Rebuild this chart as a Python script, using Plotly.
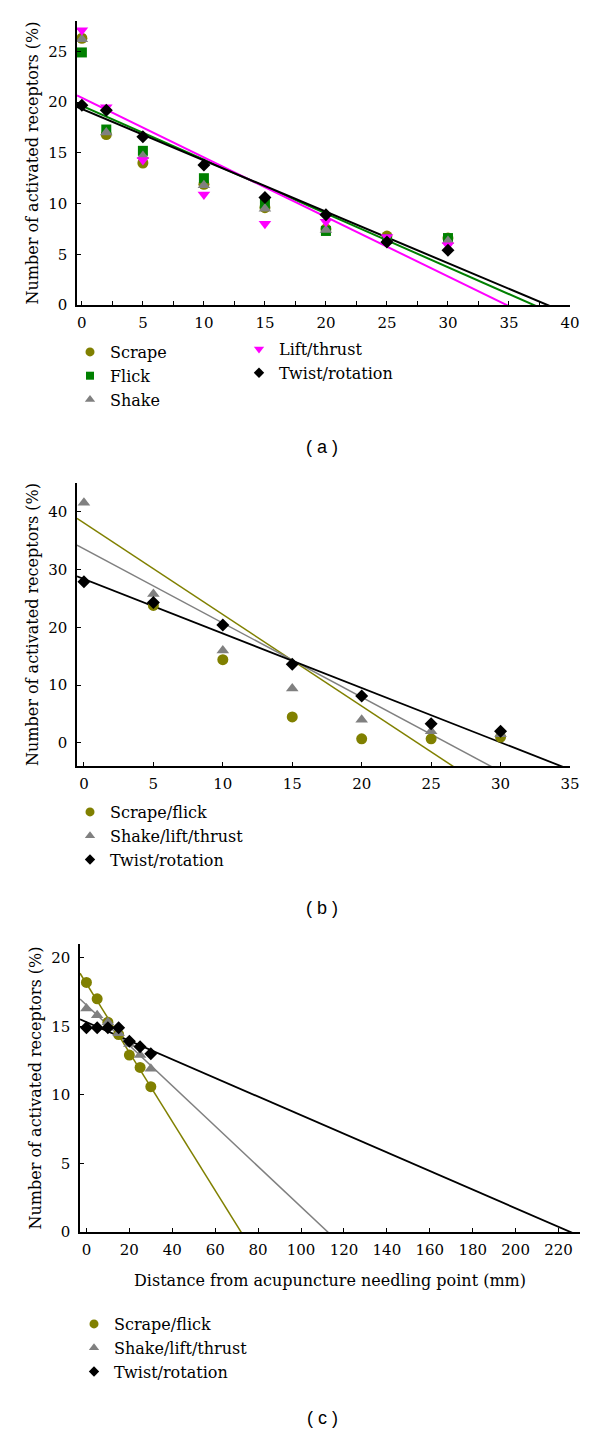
import numpy as np
import plotly.graph_objects as go

# ---------------- data ----------------
# Panel (a)
a_x = [0, 2, 5, 10, 15, 20, 25, 30]
a_scrape = [26.3, 16.8, 14.0, 11.9, 9.6, 7.5, 6.8, 6.6]
a_flick = [24.9, 17.3, 15.2, 12.5, 10.0, 7.3, 6.5, 6.6]
a_shake = [26.2, 17.0, 14.7, 11.8, 9.5, 7.4, 6.4, 6.3]
a_lift = [27.1, 19.5, 14.3, 10.9, 8.0, 8.2, 6.7, 5.9]
a_twist = [19.7, 19.2, 16.6, 13.8, 10.6, 8.9, 6.2, 5.4]

# Panel (b)
b_x = [0, 5, 10, 15, 20, 25, 30]
b_scrape_flick = [55.0, 23.8, 14.4, 4.5, 0.7, 0.7, 1.0]
b_shake_lift = [41.6, 25.8, 16.0, 9.4, 4.0, 2.0, 1.5]
b_twist = [27.9, 24.3, 20.4, 13.6, 8.1, 3.3, 2.0]

# Panel (c)
c_x = [0, 5, 10, 15, 20, 25, 30]
c_scrape_flick = [18.2, 17.0, 15.3, 14.4, 12.9, 12.0, 10.6]
c_shake_lift = [16.3, 15.8, 15.3, 14.5, 13.7, 12.9, 11.9]
c_twist = [14.9, 14.9, 14.9, 14.9, 13.9, 13.5, 13.0]

# ---------------- styling ----------------
OFF = 8  # default page body margin
W, H = 600 - OFF, 1434 - OFF
OLIVE = "#808000"
GREEN = "#008000"
GRAY = "#808080"
MAGENTA = "#FF00FF"
BLACK = "#000000"
SERIF = "DejaVu Serif"
SANS = "Liberation Sans"


def px_x(v):
    return (v - OFF) / W


def px_y(v):
    return 1 - (v - OFF) / H


fig = go.Figure()


def add_series(x, y, name, color, symbol, size, xa, ya, fit, lw, xr, legend, lsize):
    if fit:
        m, b = np.polyfit(np.array(x, float), np.array(y, float), 1)
        xs = np.array(xr, float)
        fig.add_trace(go.Scatter(x=xs, y=m * xs + b, mode="lines",
                                 line=dict(color=color, width=lw),
                                 xaxis=xa, yaxis=ya, showlegend=False,
                                 hoverinfo="skip"))
    return (x, y, name, color, symbol, size, xa, ya, legend, lsize)


def add_markers(spec):
    x, y, name, color, symbol, size, xa, ya, legend, lsize = spec
    fig.add_trace(go.Scatter(x=x, y=y, mode="markers", name=name,
                             marker=dict(color=color, symbol=symbol, size=size,
                                         line=dict(width=0)),
                             xaxis=xa, yaxis=ya, showlegend=False))
    fig.add_trace(go.Scatter(x=[None], y=[None], mode="markers", name=name,
                             marker=dict(color=color, symbol=symbol, size=lsize,
                                         line=dict(width=0)),
                             xaxis=xa, yaxis=ya, showlegend=True, legend=legend))


# panel (a)
ra_x = [-0.4, 40]
specs = [
    add_series(a_x, a_scrape, "Scrape", OLIVE, "circle", 11, "x", "y", False, 2, ra_x, "legend", 9),
    add_series(a_x, a_flick, "Flick", GREEN, "square", 10, "x", "y", True, 2, ra_x, "legend", 8),
    add_series(a_x, a_shake, "Shake", GRAY, "triangle-up", 11, "x", "y", False, 2, ra_x, "legend", 9),
    add_series(a_x, a_lift, "Lift/thrust", MAGENTA, "triangle-down", 11, "x", "y", True, 2, ra_x, "legend2", 9),
    add_series(a_x, a_twist, "Twist/rotation", BLACK, "diamond", 10, "x", "y", True, 2, ra_x, "legend2", 8),
]
for s in specs:
    add_markers(s)

# panel (b)
rb_x = [-0.5, 35]
specs = [
    add_series(b_x, b_scrape_flick, "Scrape/flick", OLIVE, "circle", 11, "x2", "y2", True, 1.5, rb_x, "legend3", 9),
    add_series(b_x, b_shake_lift, "Shake/lift/thrust", GRAY, "triangle-up", 11, "x2", "y2", True, 1.5, rb_x, "legend3", 9),
    add_series(b_x, b_twist, "Twist/rotation", BLACK, "diamond", 10, "x2", "y2", True, 1.8, rb_x, "legend3", 8),
]
for s in specs:
    add_markers(s)

# panel (c)
rc_x = [-3, 230]
specs = [
    add_series(c_x, c_scrape_flick, "Scrape/flick", OLIVE, "circle", 11, "x3", "y3", True, 1.5, rc_x, "legend4", 9),
    add_series(c_x, c_shake_lift, "Shake/lift/thrust", GRAY, "triangle-up", 11, "x3", "y3", True, 1.5, rc_x, "legend4", 9),
    add_series(c_x, c_twist, "Twist/rotation", BLACK, "diamond", 10, "x3", "y3", True, 1.8, rc_x, "legend4", 8),
]
for s in specs:
    add_markers(s)


def axis_style(**kw):
    d = dict(showline=True, linecolor="black", linewidth=1.5, showgrid=False,
             zeroline=False, ticks="inside", ticklen=4, tickwidth=1.2,
             tickcolor="black", ticklabelstandoff=5, automargin=False,
             tickfont=dict(family=SERIF, size=15, color="black"))
    d.update(kw)
    return d


ytitle = dict(text="Number of activated receptors (%)",
              font=dict(family=SERIF, size=16, color="black"), standoff=6)

fig.update_layout(
    width=W, height=H, autosize=False,
    margin=dict(l=0, r=0, t=0, b=0),
    paper_bgcolor="white", plot_bgcolor="white",
    font=dict(family=SERIF, color="black"),
    xaxis=axis_style(domain=[px_x(77), px_x(570)], range=ra_x, anchor="y",
                     tickmode="array", tickvals=list(range(0, 41, 5)),
                     ticklabelstandoff=3,
                     minor=dict(dtick=2.5, tick0=0, ticks="inside", ticklen=4,
                                tickcolor="black", tickwidth=1.2)),
    yaxis=axis_style(domain=[px_y(305), px_y(21)], range=[0, 28], anchor="x",
                     dtick=5, tick0=0, title=ytitle),
    xaxis2=axis_style(domain=[px_x(77), px_x(570)], range=rb_x, anchor="y2",
                      dtick=5, tick0=0, ticklabelstandoff=3),
    yaxis2=axis_style(domain=[px_y(766), px_y(483)], range=[-4, 45], anchor="x2",
                      dtick=10, tick0=0, title=ytitle),
    xaxis3=axis_style(domain=[px_x(80), px_x(580)], range=rc_x, anchor="y3",
                      dtick=20, tick0=0, ticklabelstandoff=3,
                      title=dict(text="Distance from acupuncture needling point (mm)",
                                 font=dict(family=SERIF, size=16, color="black"),
                                 standoff=17)),
    yaxis3=axis_style(domain=[px_y(1232), px_y(944)], range=[0, 21], anchor="x3",
                      dtick=5, tick0=0, title=ytitle),
)

leg_common = dict(xanchor="left", yanchor="top", bgcolor="rgba(0,0,0,0)",
                  font=dict(family=SERIF, size=16, color="black"),
                  borderwidth=0, tracegroupgap=0, itemwidth=30)
fig.update_layout(
    legend=dict(x=px_x(70), y=px_y(335), **leg_common),
    legend2=dict(x=px_x(239), y=px_y(332), **leg_common),
    legend3=dict(x=px_x(70), y=px_y(795), **leg_common),
    legend4=dict(x=px_x(74), y=px_y(1307), **leg_common),
)

for txt, yy in [("( a )", 447), ("( b )", 908), ("( c )", 1418)]:
    fig.add_annotation(text=txt, x=px_x(322), y=px_y(yy), xref="paper", yref="paper",
                       showarrow=False, xanchor="center", yanchor="middle",
                       font=dict(family=SANS, size=18, color="black"))

fig.write_html("out.html")
